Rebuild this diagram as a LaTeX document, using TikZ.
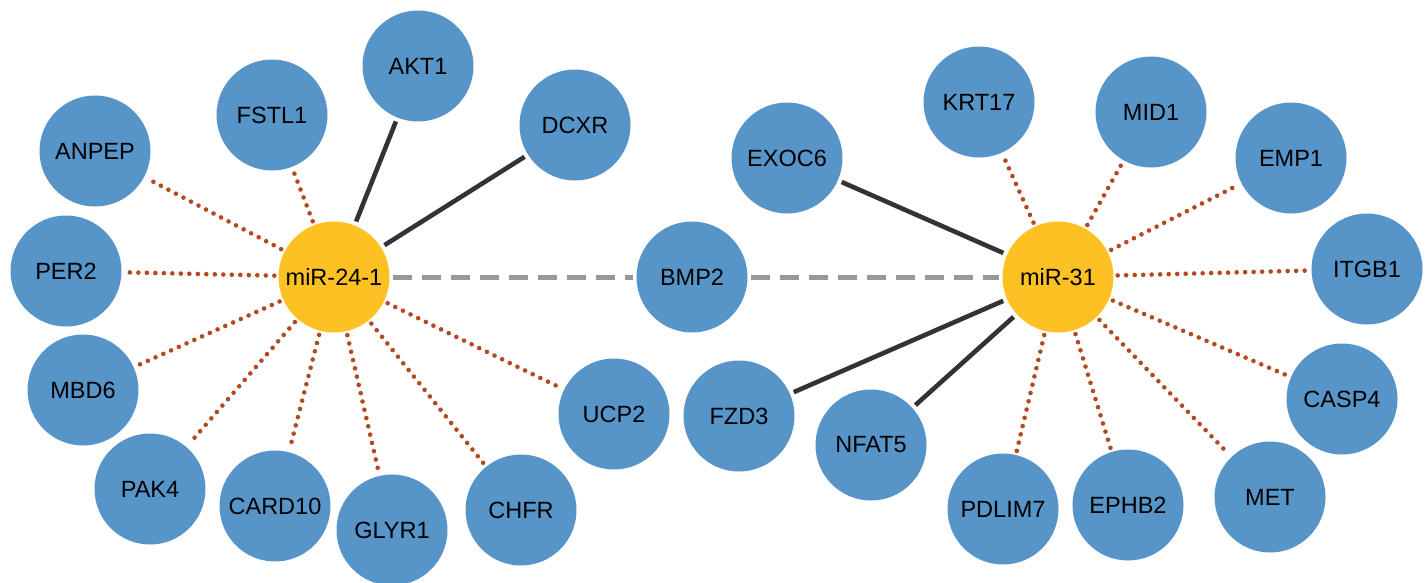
\documentclass[tikz,border=0pt]{standalone}
\usepackage{fontspec}
\setmainfont{Liberation Sans}
\usetikzlibrary{backgrounds}
\definecolor{geneblue}{RGB}{87,149,201}
\definecolor{mirgold}{RGB}{253,193,36}
\definecolor{dotrust}{RGB}{180,72,30}
\definecolor{solidgray}{RGB}{51,51,51}
\definecolor{dashgray}{RGB}{153,153,153}
\tikzset{
  gene/.style={circle, fill=geneblue, minimum size=111pt, inner sep=0pt,
    font=\fontsize{23.5}{28}\selectfont, text=black},
  mirna/.style={gene, fill=mirgold},
  predicted/.style={draw=dotrust, line width=4.6pt, line cap=round,
    dash pattern=on 0pt off 8.5pt, shorten <=4pt, shorten >=4pt},
  validated/.style={draw=solidgray, line width=4.6pt, shorten <=4pt, shorten >=4pt},
  shared/.style={draw=dashgray, line width=5pt, dash pattern=on 19pt off 10pt,
    shorten <=3pt, shorten >=3pt}
}
\begin{document}
\begin{tikzpicture}[x=1pt,y=-1pt]
\useasboundingbox (0,0) rectangle (1427,582);

% microRNA hubs and the shared target
\node[mirna] (m24) at (334,277) {miR-24-1};
\node[mirna] (m31) at (1058,277) {miR-31};
\node[gene] (bmp2) at (692,277) {BMP2};

% targets of miR-24-1
\node[gene] (anpep) at (95,151) {ANPEP};
\node[gene] (fstl1) at (272,115) {FSTL1};
\node[gene] (akt1) at (418,66) {AKT1};
\node[gene] (dcxr) at (575,125) {DCXR};
\node[gene] (per2) at (66,271) {PER2};
\node[gene] (mbd6) at (83,390) {MBD6};
\node[gene] (pak4) at (150,489) {PAK4};
\node[gene] (card10) at (275,506) {CARD10};
\node[gene] (glyr1) at (392,530) {GLYR1};
\node[gene] (chfr) at (521,510) {CHFR};
\node[gene] (ucp2) at (614,414) {UCP2};

% targets of miR-31
\node[gene] (exoc6) at (787,158) {EXOC6};
\node[gene] (krt17) at (979,102) {KRT17};
\node[gene] (mid1) at (1151,112) {MID1};
\node[gene] (emp1) at (1291,158) {EMP1};
\node[gene] (itgb1) at (1367,269) {ITGB1};
\node[gene] (casp4) at (1342,399) {CASP4};
\node[gene] (met) at (1270,497) {MET};
\node[gene] (ephb2) at (1128,505) {EPHB2};
\node[gene] (pdlim7) at (1003,509) {PDLIM7};
\node[gene] (nfat5) at (871,445) {NFAT5};
\node[gene] (fzd3) at (739,416) {FZD3};

\begin{pgfonlayer}{background}
  % miR-24-1 interactions
  \foreach \t in {anpep,fstl1,per2,mbd6,pak4,card10,glyr1,chfr,ucp2}
    \draw[predicted] (m24) -- (\t);
  \foreach \t in {akt1,dcxr}
    \draw[validated] (m24) -- (\t);
  % miR-31 interactions
  \foreach \t in {krt17,mid1,emp1,itgb1,casp4,met,ephb2,pdlim7}
    \draw[predicted] (m31) -- (\t);
  \foreach \t in {exoc6,fzd3,nfat5}
    \draw[validated] (m31) -- (\t);
  % shared target
  \draw[shared] (m24) -- (bmp2);
  \draw[shared] (bmp2) -- (m31);
\end{pgfonlayer}
\end{tikzpicture}
\end{document}
